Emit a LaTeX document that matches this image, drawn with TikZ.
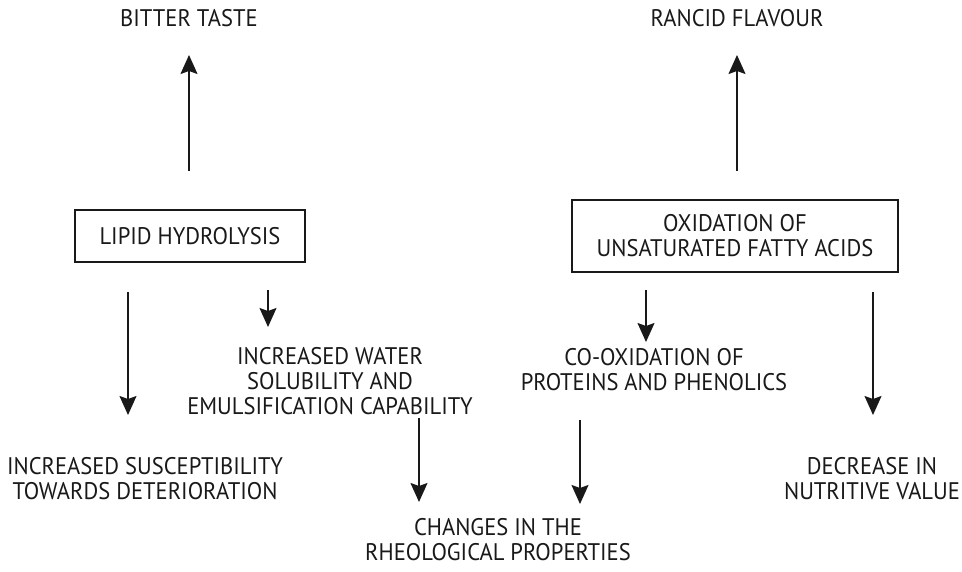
\documentclass[tikz,border=0pt]{standalone}
\usepackage{fontspec}
\setmainfont[FakeStretch=0.94]{PT Sans}
\usetikzlibrary{arrows.meta}
\tikzset{
  lbl/.style={align=center, inner sep=0pt, text=black!90, font=\fontsize{24}{25}\selectfont},
  procbox/.style={draw=black!90, line width=1.4pt, minimum height=#1, inner sep=0pt},
  arr/.style={line width=1.6pt, draw=black!90, -{Stealth[length=19pt,width=17pt,inset=3pt]}}
}
\begin{document}
\begin{tikzpicture}[x=1pt,y=-1pt]
\useasboundingbox[fill=white] (0,0) rectangle (962,572);
% boxes
\node[procbox=52pt, minimum width=230pt, lbl] (lh) at (190,236) {LIPID HYDROLYSIS};
\node[procbox=72pt, minimum width=326pt, lbl] (ox) at (735,236) {OXIDATION OF\\UNSATURATED FATTY ACIDS};
% outcome labels
\node[lbl] (bt) at (189,18) {BITTER TASTE};
\node[lbl] (rf) at (737,18) {RANCID FLAVOUR};
\node[lbl] (iw) at (330,381) {INCREASED WATER\\SOLUBILITY AND\\EMULSIFICATION CAPABILITY};
\node[lbl] (is) at (145,479) {INCREASED SUSCEPTIBILITY\\TOWARDS DETERIORATION};
\node[lbl] (co) at (654,370) {CO-OXIDATION OF\\PROTEINS AND PHENOLICS};
\node[lbl] (dn) at (872,479) {DECREASE IN\\NUTRITIVE VALUE};
\node[lbl] (ch) at (498,540) {CHANGES IN THE\\RHEOLOGICAL PROPERTIES};
% arrow end points
\coordinate (a1s) at (189,171); \coordinate (a1e) at (189,55);
\coordinate (a2s) at (737,171); \coordinate (a2e) at (737,55);
\coordinate (a3s) at (128,292); \coordinate (a3e) at (128,415);
\coordinate (a4s) at (268,290); \coordinate (a4e) at (268,327);
\coordinate (a5s) at (419,418); \coordinate (a5e) at (419,502);
\coordinate (a6s) at (580,420); \coordinate (a6e) at (580,504);
\coordinate (a7s) at (646,290); \coordinate (a7e) at (646,342);
\coordinate (a8s) at (873,292); \coordinate (a8e) at (873,415);
\draw[arr] (a1s) -- (a1e);
\draw[arr] (a2s) -- (a2e);
\draw[arr] (a3s) -- (a3e);
\draw[arr] (a4s) -- (a4e);
\draw[arr] (a5s) -- (a5e);
\draw[arr] (a6s) -- (a6e);
\draw[arr] (a7s) -- (a7e);
\draw[arr] (a8s) -- (a8e);
\end{tikzpicture}
\end{document}
